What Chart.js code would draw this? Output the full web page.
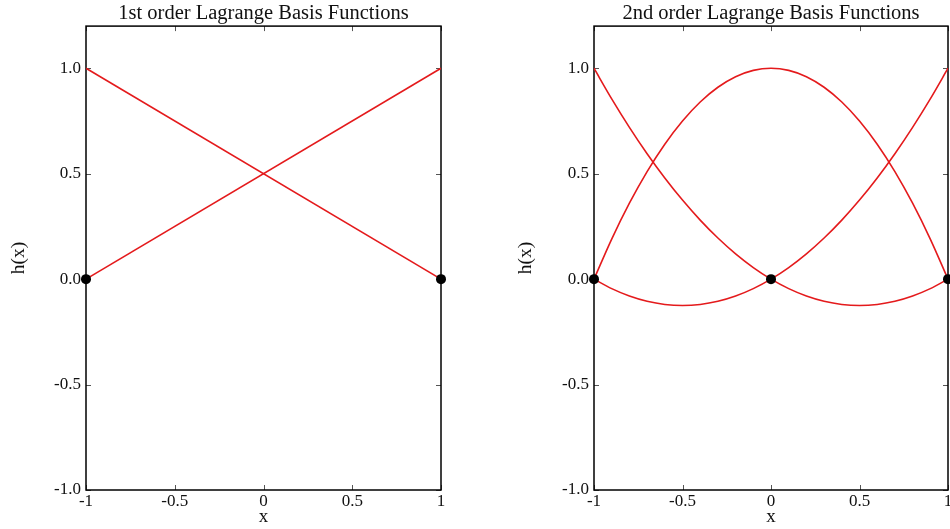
<!DOCTYPE html>
<html>
<head>
<meta charset="utf-8">
<script src="https://cdn.jsdelivr.net/npm/chart.js@4"></script>
<style>
  html, body { margin: 0; padding: 0; background: #fff; overflow: hidden; }
  .panel { position: absolute; top: 0; }
  canvas { display: block; }
</style>
</head>
<body>
<div class="panel" style="left:0px"><canvas id="first" width="475" height="529"></canvas></div>
<div class="panel" style="left:475px"><canvas id="second" width="500" height="529"></canvas></div>
<script>
const xTicks = [-1, -0.5, 0, 0.5, 1];
const xTickLabels = ['-1', '-0.5', '0', '0.5', '1'];
const yTicks = [-1, -0.5, 0, 0.5, 1];
const yTickLabels = ['-1.0', '-0.5', '0.0', '0.5', '1.0'];

// linear elements: two nodes
const linearX = [-1, 1];
const linearLeft = [1, 0];
const linearRight = [0, 1];
const linearNodes = [-1, 1];

// quadratic elements: three nodes
const quadX = [-1, -0.9, -0.8, -0.7, -0.6, -0.5, -0.4, -0.3, -0.2, -0.1, 0,
               0.1, 0.2, 0.3, 0.4, 0.5, 0.6, 0.7, 0.8, 0.9, 1];
const quadLeft = [1, 0.855, 0.72, 0.595, 0.48, 0.375, 0.28, 0.195, 0.12, 0.055, 0,
                  -0.045, -0.08, -0.105, -0.12, -0.125, -0.12, -0.105, -0.08, -0.045, 0];
const quadMiddle = [0, 0.19, 0.36, 0.51, 0.64, 0.75, 0.84, 0.91, 0.96, 0.99, 1,
                    0.99, 0.96, 0.91, 0.84, 0.75, 0.64, 0.51, 0.36, 0.19, 0];
const quadRight = [0, -0.045, -0.08, -0.105, -0.12, -0.125, -0.12, -0.105, -0.08, -0.045, 0,
                   0.055, 0.12, 0.195, 0.28, 0.375, 0.48, 0.595, 0.72, 0.855, 1];
const quadNodes = [-1, 0, 1];

const RED = '#e41a1c';
const SERIF = "'Liberation Serif', 'DejaVu Serif', serif";
Chart.defaults.font.family = SERIF;
Chart.defaults.color = '#111';

function pts(xs, ys) {
  return xs.map((x, i) => ({ x: x, y: ys[i] }));
}

function curve(xs, ys) {
  return {
    type: 'line',
    data: pts(xs, ys),
    borderColor: RED,
    borderWidth: 1.6,
    pointRadius: 0,
    fill: false,
    cubicInterpolationMode: 'monotone',
    order: 1
  };
}

// node markers sit on top of the curves
function nodes(xs) {
  return {
    type: 'scatter',
    data: xs.map(x => ({ x: x, y: 0 })),
    backgroundColor: '#000',
    borderColor: '#000',
    borderWidth: 0,
    pointRadius: 5,
    showLine: false,
    clip: false,
    order: 0
  };
}

// box around the plot with inward tick marks on all four sides
const frame = {
  id: 'frame',
  beforeDatasetsDraw(chart) {
    const { ctx, chartArea: a, scales: { x, y } } = chart;
    ctx.save();
    ctx.strokeStyle = '#555';
    ctx.lineWidth = 1;
    ctx.beginPath();
    xTicks.forEach(v => {
      const px = Math.round(x.getPixelForValue(v)) + 0.5;
      ctx.moveTo(px, a.bottom); ctx.lineTo(px, a.bottom - 5);
      ctx.moveTo(px, a.top); ctx.lineTo(px, a.top + 5);
    });
    yTicks.forEach(v => {
      const py = Math.round(y.getPixelForValue(v)) + 0.5;
      ctx.moveTo(a.left, py); ctx.lineTo(a.left + 5, py);
      ctx.moveTo(a.right, py); ctx.lineTo(a.right - 5, py);
    });
    ctx.stroke();
    ctx.strokeStyle = '#000';
    ctx.lineWidth = 1.5;
    ctx.strokeRect(a.left, a.top, a.width, a.height);
    ctx.restore();
  }
};

function makeChart(id, title, datasets, axisWidth, titleGap, padRight) {
  return new Chart(document.getElementById(id), {
    data: { datasets: datasets },
    plugins: [frame],
    options: {
      responsive: false,
      animation: false,
      layout: { padding: { left: 0, right: padRight, top: 0, bottom: 0 } },
      plugins: {
        legend: { display: false },
        tooltip: { enabled: false },
        title: {
          display: true,
          text: title,
          fullSize: false,
          color: '#111',
          font: { size: 20.5, weight: 'normal', family: SERIF },
          padding: { top: 1, bottom: 0.5 }
        }
      },
      scales: {
        x: {
          type: 'linear',
          min: -1,
          max: 1,
          grid: { display: false, drawTicks: false },
          border: { display: false },
          afterBuildTicks: s => { s.ticks = xTicks.map(v => ({ value: v })); },
          afterFit: s => { s.height = 39; },
          ticks: {
            padding: 1,
            maxRotation: 0,
            font: { size: 17 },
            callback: v => xTickLabels[xTicks.indexOf(v)]
          },
          title: {
            display: true,
            text: 'x',
            font: { size: 19 },
            padding: { top: 0, bottom: 1 }
          }
        },
        y: {
          type: 'linear',
          min: -1,
          max: 1.2,
          grid: { display: false, drawTicks: false },
          border: { display: false },
          afterBuildTicks: s => { s.ticks = yTicks.map(v => ({ value: v })); },
          afterFit: s => { s.width = axisWidth; },
          ticks: {
            padding: 5,
            font: { size: 17 },
            callback: v => yTickLabels[yTicks.indexOf(v)]
          },
          title: {
            display: true,
            text: 'h(x)',
            font: { size: 19.5 },
            padding: { top: titleGap, bottom: 0 }
          }
        }
      }
    }
  });
}

makeChart('first', '1st order Lagrange Basis Functions', [
  curve(linearX, linearLeft),
  curve(linearX, linearRight),
  nodes(linearNodes)
], 86, 7, 34);

makeChart('second', '2nd order Lagrange Basis Functions', [
  curve(quadX, quadLeft),
  curve(quadX, quadMiddle),
  curve(quadX, quadRight),
  nodes(quadNodes)
], 119, 39, 27);
</script>
</body>
</html>
